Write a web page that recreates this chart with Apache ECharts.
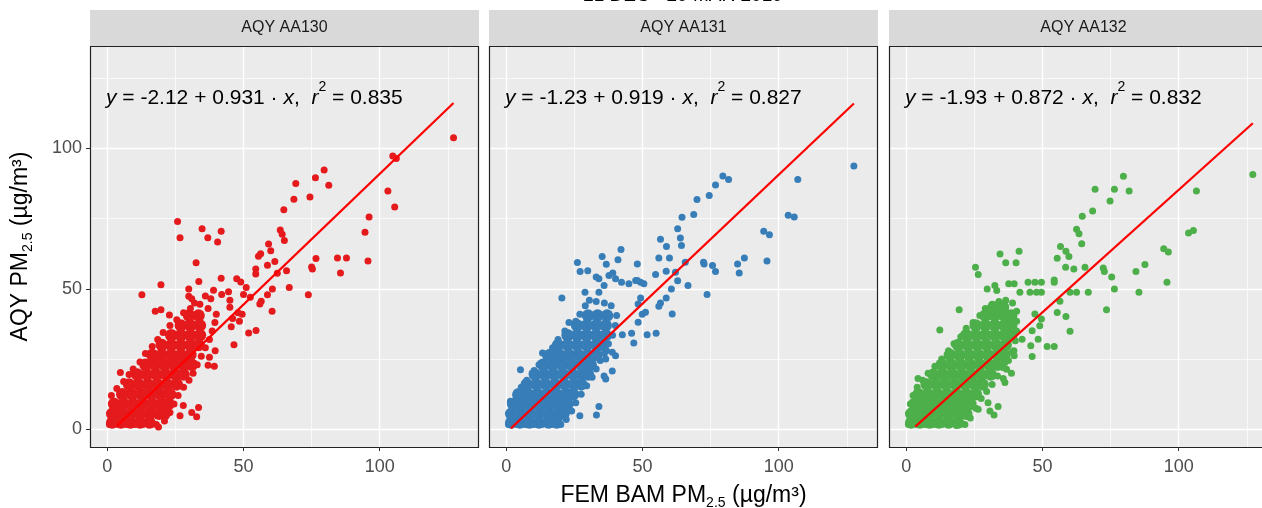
<!DOCTYPE html>
<html>
<head>
<meta charset="utf-8">
<script src="https://cdn.jsdelivr.net/npm/echarts@6/dist/echarts.min.js"></script>
<style>
html,body{margin:0;padding:0;background:#fff;}
#chart{width:1262px;height:508px;}
</style>
</head>
<body>
<div id="chart"></div>
<script>
// ---------------- data ----------------
const topTitle = '21 DEC - 29 MAR 2019';
const panelNames = ['AQY AA130', 'AQY AA131', 'AQY AA132'];
const seriesColors = ['#E41A1C', '#377EB8', '#4DAF4A'];
const intercepts = ['-2.12', '-1.23', '-1.93'];
const slopes = ['0.931', '0.919', '0.872'];
const r2s = ['0.835', '0.827', '0.832'];
const majorTicks = [0, 50, 100];
const minorTicks = [25, 75, 125];

// fitted line end points (x from data min to data max)
const lineAA130 = [[3.5, 1.14], [127.1, 116.21]];
const lineAA131 = [[1.7, 0.33], [127.6, 116.03]];
const lineAA132 = [[3.3, 0.95], [127.2, 108.99]];

// scattered / edge points
const pointsAA130 = [
[127.1,103.8],[106.1,96.4],[104.8,97.3],[103,84.9],[105.5,79.2],[96.1,75.6],[94.6,70.2],[95.7,59.9],[87.8,61.0],[84.5,61.0],[85.6,55.7],
[79.6,92.3],[76.4,89.6],[69.2,87.5],[81.3,86.9],[74.4,82.7],[68.5,81.9],[64.8,78.2],
[63.5,71.0],[64.2,69.5],[65.0,67.2],[59.2,66.0],[60.0,63.6],[56.3,62.5],[55.5,61.6],
[58.8,58.4],[61.5,59.8],[62.4,55.6],[54.5,57.1],[54.5,55.3],[65.8,56.5],[66.8,50.5],[60.6,50.0],[58.8,47.9],[56.5,45.6],[56.0,44.6],[60.5,42.0],
[75.0,57.8],[75.3,57.1],[76.6,60.8],[73.8,47.9],
[25.8,74.0],[26.7,68.2],[34.8,71.4],[36.9,68.2],[40.5,66.7],[41.8,70.5],[32.6,59.3],
[19.7,51.5],[12.7,47.9],[17.6,42.0],[19.7,42.6],[22.8,40.7],[33.6,52.6],[29.9,50.0],[29.9,47.4],[41.8,53.8],[47.5,53.6],
[36,47.5],[39,49.5],[38,46.5],[42,48],[44.5,49],[45,46],[49,52.5],[51,50.5],[50,48],[52.5,47],
[45,43.5],[48,41.5],[49.5,41],[46,39.5],[48.5,38.5],[45.5,36.5],[51.9,34.3],[54.6,35.2],[46.5,30.1],[39.6,28.0],[37.5,25.7],[37,22.8],[39.3,22.5],
[4.8,20.2],[26.7,4.8],[18.8,0.8],[31,6],[32.8,4.5],[33.5,7.8],[27.9,8.5],
[1.5,12],[3.5,14.5],[6,17],[8,19.5],[9.5,21.5],[12,24],[14,27],[16.5,29.5],[18.5,32],[20.5,34.5],[23,37],[25.5,39],[28,41.5],[30.5,43],[32,45],[34,44.5],[31,46.5],
[18,1.7],[21,3],[23,6],[24.5,9],[26,12],[28,15],[30,17.5],[31.5,20],[33,23],[34.5,26],[36,29],[37.5,32],[38.5,35],[39.5,38],[40,41],[37,43],
[0.8,1.7],[4,1.7],[7,1.7],[10,1.7],[13,1.7],[16,1.7]
];
const pointsAA131 = [
[127.6,93.8],[107,89.0],[103.5,76.2],[105.7,75.6],[94.5,70.5],[96.6,69.3],[95.7,59.9],[84.9,58.9],[85.5,55.7],[87.4,61.0],
[79.5,90.2],[81.6,89.0],[76.8,87.0],[74.5,83.3],[70,81.8],[68.8,76.5],[64.5,75.5],[62.9,71.4],[63.9,68.1],[64.3,65.5],
[56.6,67.7],[58.8,65.1],[59.9,61.0],[56,61.0],[58.7,56.3],[54.8,55.1],[62.1,55.9],[62.9,52.9],[65.7,59.5],[66.7,51.2],[60.6,50],[58.7,46.8],[56.6,45.0],[56,43.8],[60.9,41.1],
[72.4,59.5],[72.6,58.9],[75.7,58.3],[76.8,56.2],[73.7,48],
[55,34.2],[51.7,33.7],[46.8,30.7],[46,34.2],[42.6,33.7],
[48.4,38.1],[49.9,41.0],[51.1,41.7],[48.4,44.6],[49.3,46.8],[49.3,52.4],[47.5,53.0],
[48.1,58.9],[42.1,64.0],[41,60.4],[35.2,61.5],[36.7,58.8],[26.1,59.4],[27.1,56.2],[29.9,56.5],
[33.0,54.2],[34.0,53.6],[37.7,54.8],[39.1,55.7],[40.1,53.6],[42.3,52.4],[45.0,51.8],[48.1,53.0],[50.5,51.8],
[20.4,46.8],[28.9,48.8],[34.0,48.8],[35.9,51.2],
[27,4.8],[33.1,5.1],[34,8.1],[5.2,21.2],[13.3,27.2],[10.2,20.9],
[35.9,19.0],[36.5,17.9],[38.9,20.8],[36.5,25],[36.8,28],[40.1,26.2],[38.9,27.4],
[1.5,10],[3.5,12],[5.5,15],[7.5,17.5],[9.5,20],[12,23],[14.5,26],[17,29],[19,32],[21.5,35],[23,38],[25.5,38.5],[27,41],[29,44],[30.5,46],[33,45.5],[36,45],[38.5,44],
[20,1.7],[22,3.5],[24,6.5],[25.5,9.5],[27.5,12.5],[29.5,15.5],[31.5,18.5],[33,21.5],[34.5,24.5],[36,27],[37.5,30.5],[39,33.5],[40,37],[40.5,40.5],
[0.8,1.7],[4,1.7],[7,1.7],[10,1.7],[13,1.7],[16.5,1.7]
];
const pointsAA132 = [
[127.2,90.7],[106.5,84.9],[103.6,69.9],[105.4,70.8],[94.5,64.3],[96.2,63.1],[95.7,52.4],[84.3,56.2],[87.6,58.7],[85.4,48.8],
[79.7,90.1],[76.4,85.5],[81.8,84.9],[74.8,81.3],[69.3,85.5],[68.4,77.7],[64.6,75.9],[62.5,71.2],[63.4,69.6],[64.4,66.1],
[56.6,65.1],[58.6,63.4],[59.7,61.5],[55.4,60.95],[58.5,57.7],[61.5,57.1],[65.6,57.7],[72.3,57.4],[72.7,56.2],[75.4,54.2],[76.4,50],[73.5,42.6],[66.8,48.8],[60.1,48.8],[62.5,48.8],
[54.3,53.2],[54.3,52.4],[56.4,45.6],[55.4,41.6],[58.6,40.2],[60.1,34.9],[51.7,29.5],[54.3,29.5],[46.2,25.9],[45.7,29.8],[48.4,32.1],[42.5,32.1],
[46.2,35.1],[49.0,36.9],[49.6,39.3],[47.2,41.1],[44.7,52.4],[47.2,52.4],[49.6,52.4],
[41.4,63.4],[40.3,59.3],[36.5,59.3],[34.4,62.4],[25.4,57.7],[26.4,55.1],
[29.7,50],[32.5,51.2],[33.2,49.4],[37.6,51.8],[39.6,51.8],[41.7,48.8],[45.4,48.8],[47.8,48.8],[49.6,48.8],
[19.4,42.6],[12.3,35.4],[4.3,18.1],
[26.4,7.1],[30,9.5],[32.2,5.1],[33.7,8.1],[30.7,6.5],[18.4,1.4],
[38.9,27.4],[39.6,26.2],[36.2,23.8],[36.8,21.4],[38.6,20],[36.2,16.7],[35.6,18.1],
[1.5,9],[2.5,12],[4,15],[6,17.5],[8,20],[10.5,22.5],[13,25],[15.5,28],[17.5,30.5],[20,33],[22,36],[24.5,38],[27,40.5],[29,43],[31.5,44.5],[34,45.5],[36.5,46],[39,45],
[21.5,1.7],[23.5,4],[25.5,7.5],[27.5,11],[29.5,13.5],[31.5,16],[33.5,19],[35.5,22],[37.5,24.5],[39.5,28],[40,31.5],[40.5,35],[40.5,38.5],[40.5,42],
[0.8,1.7],[4,1.7],[7,1.7],[10,1.7],[13,1.7],[16,1.7],[19.5,1.7]
];

// dense cores of overlapping points
const coreAA130 = [
[1.8,2.4],[5,2.4],[8.5,2.4],[12,2.4],[15.5,2.4],
[1.8,5.5],[5,5.5],[8.5,5.5],[12,5.5],[15.5,5.5],[19,5.5],[21,5.5],
[2.5,9],[6,9],[9.5,9],[13,9],[16.5,9],[20,9],[22.5,9],
[5.5,12.5],[9,12.5],[12.5,12.5],[16,12.5],[19.5,12.5],[23,12.5],
[8,16],[11.5,16],[15,16],[18.5,16],[22,16],[25.5,16],
[11,19.5],[14.5,19.5],[18,19.5],[21.5,19.5],[25,19.5],[28,19.5],
[14,23],[17.5,23],[21,23],[24.5,23],[28,23],[31,23],
[16.5,26.5],[20,26.5],[23.5,26.5],[27,26.5],[30.5,26.5],
[20,30],[23.5,30],[27,30],[30.5,30],[33.5,30],
[23.5,33.5],[27,33.5],[30.5,33.5],[34,33.5],
[27,37],[30.5,37],[34,37],
[30,40.5],[33.5,40.5]
];
const coreAA131 = [
[1.8,2.4],[5,2.4],[8.5,2.4],[12,2.4],[15.5,2.4],[18.5,2.4],
[1.8,5.5],[5,5.5],[8.5,5.5],[12,5.5],[15.5,5.5],[19,5.5],[21,5.5],
[2.5,9],[6,9],[9.5,9],[13,9],[16.5,9],[20,9],[22.5,9],
[4.5,12.5],[8,12.5],[11.5,12.5],[15,12.5],[18.5,12.5],[22,12.5],[24.5,12.5],
[7.5,16],[11,16],[14.5,16],[18,16],[21.5,16],[25,16],[27.5,16],
[10.5,19.5],[14,19.5],[17.5,19.5],[21,19.5],[24.5,19.5],[28,19.5],[30,19.5],
[13.5,23],[17,23],[20.5,23],[24,23],[27.5,23],[31,23],
[16,26.5],[19.5,26.5],[23,26.5],[26.5,26.5],[30,26.5],[33,26.5],
[19,30],[22.5,30],[26,30],[29.5,30],[33,30],[35.5,30],
[22.5,33.5],[26,33.5],[29.5,33.5],[33,33.5],[36.5,33.5],
[26,37],[29.5,37],[33,37],[36.5,37],
[30,40.5],[33.5,40.5],[37,40.5]
];
const coreAA132 = [
[1.8,2.4],[5,2.4],[8.5,2.4],[12,2.4],[15.5,2.4],[19,2.4],
[1.8,5.5],[5,5.5],[8.5,5.5],[12,5.5],[15.5,5.5],[19,5.5],[22,5.5],
[3,9],[6.5,9],[10,9],[13.5,9],[17,9],[20.5,9],[23.5,9],
[4.5,12.5],[8,12.5],[11.5,12.5],[15,12.5],[18.5,12.5],[22,12.5],[25.5,12.5],
[7.5,16],[11,16],[14.5,16],[18,16],[21.5,16],[25,16],[28,16],
[10,19.5],[13.5,19.5],[17,19.5],[20.5,19.5],[24,19.5],[27.5,19.5],[31,19.5],
[13,23],[16.5,23],[20,23],[23.5,23],[27,23],[30.5,23],[33.5,23],
[16,26.5],[19.5,26.5],[23,26.5],[26.5,26.5],[30,26.5],[33.5,26.5],[36,26.5],
[19,30],[22.5,30],[26,30],[29.5,30],[33,30],[36.5,30],
[22,33.5],[25.5,33.5],[29,33.5],[32.5,33.5],[36,33.5],[38.5,33.5],
[25.5,37],[29,37],[32.5,37],[36,37],[38.5,37],
[29,40.5],[32.5,40.5],[36,40.5],[38.5,40.5],
[32,43.5],[35.5,43.5]
];

// ---------------- chart ----------------
const FONT = '"Liberation Sans", Arial, Helvetica, sans-serif';
const points = [pointsAA130, pointsAA131, pointsAA132];
const cores = [coreAA130, coreAA131, coreAA132];
const lines = [lineAA130, lineAA131, lineAA132];

const PANEL_W = 389, PANEL_H = 401, PANEL_TOP = 46, STRIP_TOP = 10;
const panelLeft = [90, 489, 889];
const XMIN = -6.35, XMAX = 136.45, YMIN = -6.3, YMAX = 136.5;

const grids = [], xAxes = [], yAxes = [], series = [], titles = [], graphics = [];
const nameRich = {
  n: {fontSize: 23, lineHeight: 28, fontFamily: FONT, color: '#000'},
  s: {fontSize: 14, lineHeight: 14, verticalAlign: 'bottom', fontFamily: FONT, color: '#000'}
};

for (let i = 0; i < 3; i++) {
  grids.push({left: panelLeft[i], top: PANEL_TOP, width: PANEL_W, height: PANEL_H,
    containLabel: false, outerBoundsMode: 'none',
    show: true, backgroundColor: '#EBEBEB', borderWidth: 0});
  const xMajor = {
    type: 'value', gridIndex: i, min: XMIN, max: XMAX, position: 'bottom',
    axisLine: {show: false, onZero: false},
    axisTick: {show: true, length: 4, lineStyle: {color: '#333333', width: 1}, customValues: majorTicks},
    axisLabel: {show: true, customValues: majorTicks, color: '#4D4D4D', fontSize: 18, fontFamily: FONT, margin: 11},
    splitLine: {show: true, lineStyle: {color: '#FFFFFF', width: 1.4}}
  };
  if (i === 1) {
    xMajor.name = '{n|FEM BAM PM}{s|2.5}{n| (µg/m³)}';
    xMajor.nameLocation = 'middle';
    xMajor.nameGap = 35;
    xMajor.nameTextStyle = {fontFamily: FONT, fontSize: 23, color: '#000', rich: nameRich};
  }
  xAxes.push(xMajor);
  xAxes.push({
    type: 'value', gridIndex: i, min: XMIN, max: XMAX, position: 'top',
    axisLine: {show: false, onZero: false}, axisTick: {show: false, customValues: minorTicks},
    axisLabel: {show: false, customValues: minorTicks},
    splitLine: {show: true, lineStyle: {color: '#FFFFFF', width: 0.7}}
  });
  const yMajor = {
    type: 'value', gridIndex: i, min: YMIN, max: YMAX, position: 'left',
    axisLine: {show: false, onZero: false},
    axisTick: {show: i === 0, length: 4, lineStyle: {color: '#333333', width: 1}, customValues: majorTicks},
    axisLabel: {show: i === 0, customValues: majorTicks, color: '#4D4D4D', fontSize: 18, fontFamily: FONT, margin: 8},
    splitLine: {show: true, lineStyle: {color: '#FFFFFF', width: 1.4}}
  };
  if (i === 0) {
    yMajor.name = '{n|AQY PM}{s|2.5}{n| (µg/m³)}';
    yMajor.nameLocation = 'middle';
    yMajor.nameGap = 55;
    yMajor.nameTextStyle = {fontFamily: FONT, fontSize: 23, color: '#000', rich: nameRich};
  }
  yAxes.push(yMajor);
  yAxes.push({
    type: 'value', gridIndex: i, min: YMIN, max: YMAX, position: 'right',
    axisLine: {show: false, onZero: false}, axisTick: {show: false, customValues: minorTicks},
    axisLabel: {show: false, customValues: minorTicks},
    splitLine: {show: true, lineStyle: {color: '#FFFFFF', width: 0.7}}
  });

  series.push({
    type: 'scatter', name: panelNames[i] + ' core', xAxisIndex: 2 * i, yAxisIndex: 2 * i,
    data: cores[i], symbol: 'circle', symbolSize: 12.5, silent: true, z: 2,
    itemStyle: {color: seriesColors[i], opacity: 1}
  });
  series.push({
    type: 'scatter', name: panelNames[i], xAxisIndex: 2 * i, yAxisIndex: 2 * i,
    data: points[i], symbol: 'circle', symbolSize: 7, silent: true, z: 3,
    itemStyle: {color: seriesColors[i], opacity: 1}
  });
  series.push({
    type: 'line', name: panelNames[i] + ' fit', xAxisIndex: 2 * i, yAxisIndex: 2 * i,
    data: lines[i], showSymbol: false, symbol: 'none', silent: true, z: 5,
    lineStyle: {color: '#FF0000', width: 2.2}
  });

  titles.push({
    text: '{i|y}{n| = ' + intercepts[i] + ' + ' + slopes[i] + ' · }{i|x}{n|,  }{i|r}{s|2}{n| = ' + r2s[i] + '}',
    left: panelLeft[i] + 16, top: 80, padding: 0,
    textStyle: {
      fontFamily: FONT, fontSize: 21, fontWeight: 'normal', color: '#000',
      rich: {
        n: {fontSize: 21, lineHeight: 36, fontFamily: FONT, color: '#000', fontWeight: 'normal'},
        i: {fontSize: 21, lineHeight: 36, fontFamily: FONT, color: '#000', fontStyle: 'italic', fontWeight: 'normal'},
        s: {fontSize: 14, lineHeight: 14, verticalAlign: 'top', fontFamily: FONT, color: '#000', fontWeight: 'normal'}
      }
    }
  });

  graphics.push({
    type: 'rect', silent: true, z: 0,
    shape: {x: panelLeft[i], y: STRIP_TOP, width: PANEL_W, height: PANEL_TOP - STRIP_TOP},
    style: {fill: '#D9D9D9'}
  });
  graphics.push({
    type: 'text', silent: true, z: 1,
    x: panelLeft[i] + PANEL_W / 2, y: (STRIP_TOP + PANEL_TOP) / 2,
    style: {text: panelNames[i], fill: '#1A1A1A', font: '16px ' + FONT, textAlign: 'center', textVerticalAlign: 'middle'}
  });
  // panel border drawn on top, as in ggplot
  graphics.push({
    type: 'rect', silent: true, z: 100,
    shape: {x: panelLeft[i] + 0.5, y: PANEL_TOP + 0.5, width: PANEL_W - 1, height: PANEL_H},
    style: {fill: null, stroke: '#222222', lineWidth: 1.2}
  });
}

graphics.push({
  type: 'text', silent: true, z: 1,
  x: 683, y: -4,
  style: {text: topTitle, fill: '#000', font: '19px ' + FONT, textAlign: 'center', textVerticalAlign: 'middle'}
});

const chart = echarts.init(document.getElementById('chart'), null, {renderer: 'canvas'});
chart.setOption({
  animation: false,
  backgroundColor: '#FFFFFF',
  title: titles,
  grid: grids,
  xAxis: xAxes,
  yAxis: yAxes,
  series: series,
  graphic: graphics
});
</script>
</body>
</html>
